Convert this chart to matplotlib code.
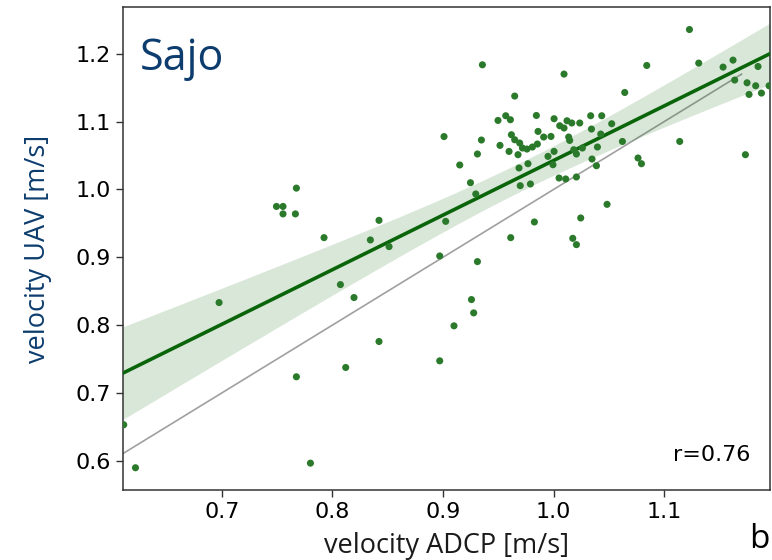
import matplotlib
matplotlib.use('Agg')
import matplotlib.pyplot as plt
import numpy as np

# ADCP velocity (x) and UAV velocity (y)
adcp = [0.901, 0.7675, 0.7495, 0.7554, 0.7554, 0.7666, 0.7925, 0.8422, 0.8344,
        0.8513, 0.9025, 0.8971, 0.6976, 0.8073, 0.8196, 0.8422, 0.8121, 0.7675,
        0.8971, 0.6114, 0.622, 0.7802, 0.9258, 0.9278, 0.91, 1.1229, 0.9357,
        1.0095, 1.0843, 1.1313, 1.1533, 1.1623, 1.1849, 1.1949, 1.1638, 1.175,
        1.1828, 1.1768, 1.188, 1.1735, 1.1141, 1.0644, 0.9649, 0.9348, 0.9516,
        0.9312, 0.9152, 0.9249, 0.9297, 0.9613, 0.9312, 0.9827, 1.0246, 1.0484,
        1.0174, 1.0207, 0.9498, 0.9568, 0.961, 0.9845, 1.0005, 1.0056, 1.0095,
        1.0122, 1.0165, 1.0237, 1.0336, 1.0436, 1.0526, 1.0343, 1.0427, 0.9619,
        0.9649, 0.986, 0.9911, 0.9977, 1.0137, 1.0146, 0.9598, 0.9694, 0.9719,
        0.976, 0.9809, 0.9854, 0.9679, 0.995, 1.0005, 1.0183, 1.0207, 1.0261,
        1.0397, 1.0348, 1.0388, 0.9688, 0.9769, 0.9995, 1.005, 1.011, 1.0207,
        0.9699, 0.9791, 1.0623, 1.0764, 1.0795]
uav = [1.078, 1.002, 0.975, 0.975, 0.964, 0.964, 0.929, 0.9545, 0.9256,
       0.9158, 0.953, 0.902, 0.8333, 0.8598, 0.8407, 0.7759, 0.7376, 0.7239,
       0.7474, 0.6532, 0.5898, 0.5966, 0.8377, 0.8181, 0.799, 1.2358, 1.1838,
       1.1701, 1.1828, 1.1863, 1.1804, 1.1907, 1.1813, 1.1529, 1.1613, 1.1573,
       1.1529, 1.1401, 1.1421, 1.0513, 1.0708, 1.143, 1.1377, 1.0729, 1.065,
       1.0523, 1.0361, 1.01, 0.9934, 0.929, 0.8937, 0.9521, 0.958, 0.9781,
       0.928, 0.9187, 1.1018, 1.1087, 1.1028, 1.1091, 1.1043, 1.094, 1.0906,
       1.1013, 1.098, 1.098, 1.1087, 1.1087, 1.0969, 1.0891, 1.0817, 1.0807,
       1.0733, 1.0856, 1.0773, 1.0782, 1.0773, 1.0723, 1.0561, 1.0685, 1.0611,
       1.0596, 1.0626, 1.067, 1.0513, 1.0488, 1.0561, 1.0586, 1.0523, 1.0611,
       1.0626, 1.0449, 1.035, 1.0317, 1.038, 1.0365, 1.0169, 1.0155, 1.0184,
       1.0056, 1.0081, 1.0708, 1.0464, 1.038]

x = np.array(adcp)
y = np.array(uav)

fig = plt.figure(figsize=(7.72, 5.60), dpi=100)
ax = fig.add_axes([0.159, 0.125, 0.8385, 0.8625])

xlim = (0.6105, 1.1958)
ylim = (0.557, 1.269)

# identity line
ax.plot([0.6, 1.17], [0.6, 1.17], color='#a0a0a0', lw=1.2, zorder=1)

# linear fit with confidence band
n = len(x)
slope, icpt = np.polyfit(x, y, 1)
xs = np.linspace(xlim[0], xlim[1], 200)
fit = icpt + slope * xs
resid = y - (icpt + slope * x)
s = np.sqrt(np.sum(resid ** 2) / (n - 2))
sxx = np.sum((x - x.mean()) ** 2)
se = s * np.sqrt(1.0 / n + (xs - x.mean()) ** 2 / sxx)
t = 2.62
ax.fill_between(xs, fit - t * se, fit + t * se, color='#006400',
                alpha=0.15, lw=0, zorder=2)
ax.plot(xs, fit, color='#0a650a', lw=2.6, zorder=3)

ax.scatter(x, y, s=26, color='#2b7a2b', edgecolors='none', zorder=4)

ax.set_xlim(xlim)
ax.set_ylim(ylim)
ax.set_xticks([0.7, 0.8, 0.9, 1.0, 1.1])
ax.set_yticks([0.6, 0.7, 0.8, 0.9, 1.0, 1.1, 1.2])
ax.tick_params(labelsize=16, length=5, width=1, color='#333333')
for sp in ax.spines.values():
    sp.set_color('#333333')
    sp.set_linewidth(1.1)

ax.set_xlabel('velocity ADCP [m/s]', family='Open Sans', fontsize=19.5,
              color='#1a1a1a', labelpad=7)
ax.set_ylabel('velocity UAV [m/s]', family='Open Sans', fontsize=19.5,
              color='#0d3d6e', labelpad=17)

ax.text(0.026, 0.87, 'Sajo', transform=ax.transAxes, family='Open Sans',
        fontsize=31, color='#0d3d6e', va='baseline')
ax.text(0.97, 0.06, 'r=0.76', transform=ax.transAxes, fontsize=16,
        ha='right', va='baseline')
fig.text(0.997, 0.021, 'b', family='Open Sans', fontsize=24, ha='right',
         va='baseline')

fig.savefig('out.png', dpi=100)
